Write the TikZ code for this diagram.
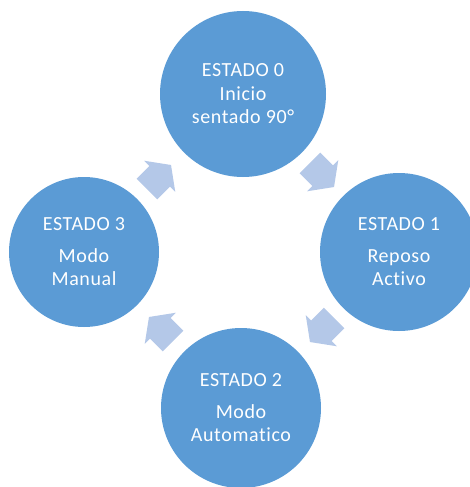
\documentclass[tikz,border=0pt]{standalone}
\usepackage{fontspec}
\setmainfont{Carlito}[Ligatures=NoCommon, LetterSpace=3]
\definecolor{circblue}{HTML}{5B9BD5}
\definecolor{arrblue}{HTML}{B4C8E8}
\begin{document}
\begin{tikzpicture}[x=1pt,y=-1pt,
  state/.style={circle, fill=circblue, draw=none, inner sep=0pt, text=white,
    align=center, font=\fontsize{20}{23.5}\selectfont},
  cyclearrow/.style={fill=arrblue, draw=none}]
\useasboundingbox (0,0) rectangle (470,487);
% states
\node[state, minimum size=166pt] (s0) at (243,94) {ESTADO 0\\Inicio\\sentado 90°};
\node[state, minimum size=158pt] (s1) at (399,252) {ESTADO 1\\[8pt]Reposo\\Activo};
\node[state, minimum size=160pt] (s2) at (241,408) {ESTADO 2\\[8pt]Modo\\Automatico};
\node[state, minimum size=150pt] (s3) at (84,252) {ESTADO 3\\[8pt]Modo\\Manual};
% arrow anchors
\coordinate (a30) at (159,177);
\coordinate (a01) at (322,175);
\coordinate (a12) at (322,330);
\coordinate (a23) at (161,329);
% block arrows
\fill[cyclearrow, shift={(a30)}, rotate=45]
  (-17,-14.5) -- (1,-14.5) -- (1,-22) -- (17,0) -- (1,22) -- (1,14.5) -- (-17,14.5) -- cycle;
\fill[cyclearrow, shift={(a01)}, rotate=-45]
  (-17,-14.5) -- (1,-14.5) -- (1,-22) -- (17,0) -- (1,22) -- (1,14.5) -- (-17,14.5) -- cycle;
\fill[cyclearrow, shift={(a12)}, rotate=-135]
  (-17,-14.5) -- (1,-14.5) -- (1,-22) -- (17,0) -- (1,22) -- (1,14.5) -- (-17,14.5) -- cycle;
\fill[cyclearrow, shift={(a23)}, rotate=135]
  (-17,-14.5) -- (1,-14.5) -- (1,-22) -- (17,0) -- (1,22) -- (1,14.5) -- (-17,14.5) -- cycle;
\end{tikzpicture}
\end{document}
